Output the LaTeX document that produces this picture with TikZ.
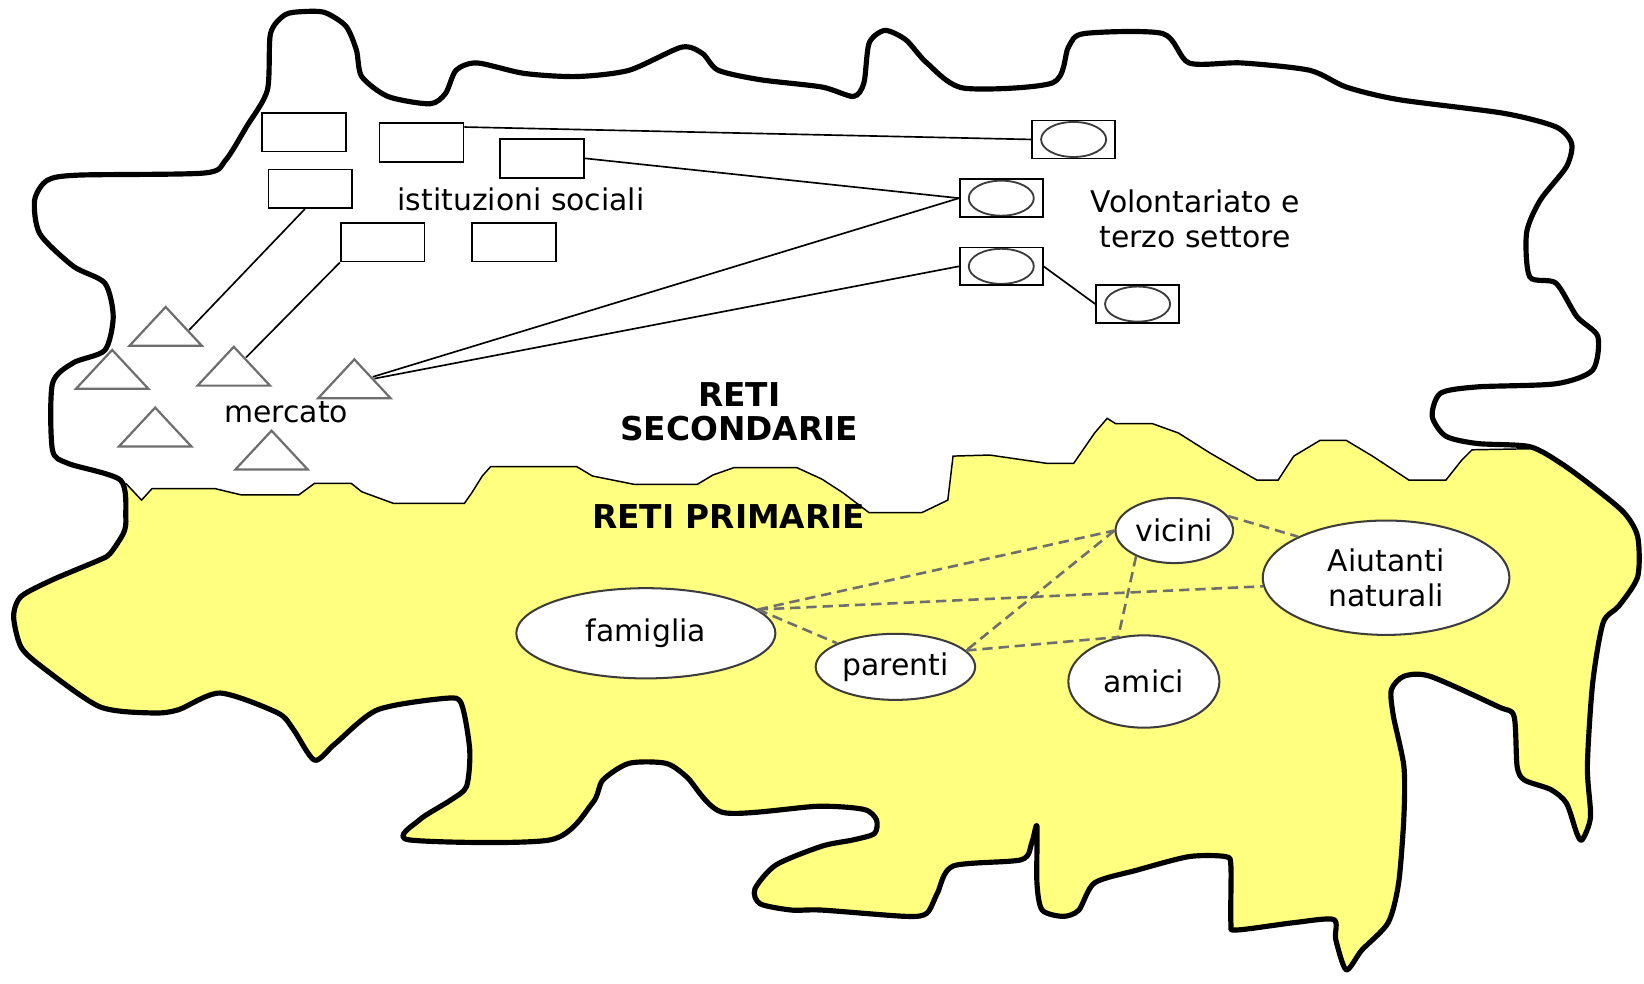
\documentclass[tikz,border=0pt]{standalone}
\usepackage{fontspec}
\setmainfont{DejaVu Sans}
\usetikzlibrary{shapes.geometric}
\definecolor{rgiallo}{HTML}{FFFF80}
\definecolor{rgrigio}{HTML}{6E6E6E}
\definecolor{rscuro}{HTML}{3C3C3C}
\tikzset{
  bordo/.style={line width=1.4pt,draw=black,line join=round},
  ist/.style={draw=black,line width=0.45pt,minimum width=0.8cm,minimum height=0.37cm,inner sep=0pt},
  vol/.style={draw=black,line width=0.45pt,minimum width=0.79cm,minimum height=0.36cm,inner sep=0pt,
    path picture={\draw[rscuro,line width=0.5pt] (path picture bounding box.center) ellipse (0.31cm and 0.167cm);}},
  mer/.style={isosceles triangle,isosceles triangle stretches,shape border rotate=90,draw=rgrigio,line width=0.6pt,
    minimum width=0.69cm,minimum height=0.37cm,inner sep=0pt,anchor=apex},
  prim/.style={ellipse,draw=rscuro,fill=white,line width=0.55pt,inner sep=0pt,align=center,font=\fontsize{8.1}{9.5}\selectfont},
  lbl/.style={font=\fontsize{8.1}{9.6}\selectfont,align=center,inner sep=0pt},
  tit/.style={font=\fontsize{8.9}{9.2}\bfseries\selectfont,align=center,inner sep=0pt},
  lnk/.style={line width=0.45pt,draw=black},
  rel/.style={dash pattern=on 2.8pt off 1.6pt,line width=0.7pt,draw=rgrigio},
}
\newcommand\contorno{plot[smooth cycle,tension=0.45] coordinates {
  (258,32) (272,14) (290,11) (310,12) (330,25) (340,48) (345,73) (370,92) (410,99) (425,89) (435,67)
  (455,60) (500,70) (550,73) (600,67) (650,45) (670,51) (685,67) (725,76) (784,83) (814,92) (824,79)
  (829,41) (844,29) (864,38) (884,60) (919,84) (1004,79) (1019,45) (1034,32) (1109,32) (1134,60)
  (1184,60) (1249,67) (1284,83) (1334,95) (1434,108) (1484,121) (1499,137) (1494,159) (1469,191)
  (1456,222) (1459,264) (1484,270) (1504,302) (1524,321) (1519,353) (1484,366) (1409,369) (1374,375)
  (1366,397) (1379,416) (1409,423) (1459,426) (1489,442) (1519,464) (1549,489) (1562,512) (1562,550)
  (1544,578) (1529,594) (1519,652) (1514,731) (1517,779) (1509,801) (1504,795) (1494,766) (1479,753)
  (1454,744) (1447,731) (1444,683) (1429,674) (1364,645) (1339,645) (1327,658) (1329,683) (1339,731)
  (1339,779) (1334,842) (1324,880) (1299,906) (1284,925) (1274,896) (1272,877) (1234,880) (1179,887)
  (1174,880) (1174,826) (1169,817) (1134,817) (1084,830) (1044,842) (1029,868) (1014,874) (994,868)
  (989,842) (989,788) (984,804) (974,820) (909,826) (894,852) (884,871) (864,874) (784,868) (755,868)
  (725,862) (720,848) (740,825) (784,807) (814,801) (834,795) (836,782) (824,772) (780,769) (690,775)
  (655,741) (635,728) (600,728) (575,744) (565,766) (525,801) (390,801) (400,782) (430,763) (445,750)
  (448,715) (440,671) (425,666) (360,677) (320,709) (300,725) (280,696) (265,680) (210,661) (170,677)
  (145,680) (95,674) (40,636) (20,617) (13,588) (20,569) (50,553) (95,534) (105,528) (118,508)
  (120,493) (115,458) (65,442) (50,429) (50,366) (70,346) (100,334) (108,302) (100,270) (70,254)
  (38,223) (33,191) (45,172) (75,167) (195,165) (215,153) (235,121) (255,86)}}
\newcommand\confine{(120,461) -- (135,477) -- (145,466) -- (205,466) -- (230,472) -- (285,472) -- (300,461)
  -- (335,461) -- (345,469) -- (375,480) -- (443,480) -- (450,470) -- (460,454) -- (468,445) -- (550,445)
  -- (565,454) -- (605,462) -- (665,462) -- (680,453) -- (700,446) -- (760,446) -- (784,457) -- (804,470)
  -- (829,489) -- (879,489) -- (904,477) -- (909,435) -- (944,434) -- (999,442) -- (1024,442) -- (1044,413)
  -- (1056,399) -- (1064,404) -- (1099,404) -- (1124,413) -- (1154,432) -- (1199,458) -- (1219,458)
  -- (1234,435) -- (1259,420) -- (1284,420) -- (1309,435) -- (1344,458) -- (1379,458) -- (1394,439)
  -- (1404,429) -- (1459,428)}
\begin{document}
\begin{tikzpicture}[x=0.01cm,y=-0.01cm]
  \useasboundingbox (0,0) rectangle (1568,938);
  % reti primarie
  \begin{scope}
    \clip (0,461) -- \confine -- (1568,428) -- (1568,938) -- (0,938) -- cycle;
    \fill[rgiallo] \contorno;
  \end{scope}
  \draw[line width=0.4pt] \confine;
  \draw[bordo] \contorno;
  % istituzioni sociali
  \foreach \n/\x/\y in {is1/290/126,is2/402/136,is3/517/151,is4/296/180,is5/365/231,is6/490/231}
    \node[ist] (\n) at (\x,\y) {};
  \node[lbl] (tis) at (497,190) {istituzioni sociali};
  % mercato
  \foreach \n/\x/\y in {me1/158/290,me2/107/331,me3/223/328,me4/338/340,me5/148/386,me6/259/408}
    \node[mer] (\n) at (\x,\y) {};
  \node[lbl] (tme) at (273,393) {mercato};
  % volontariato
  \foreach \n/\x/\y in {vo1/1024/133,vo2/955/189,vo3/955/254,vo4/1085/290}
    \node[vol] (\n) at (\x,\y) {};
  \node[lbl] (tvo) at (1140,209) {Volontariato e\\terzo settore};
  \draw[lnk] (is2.20) -- (vo1.west);
  \draw[lnk] (is3.east) -- (vo2.west);
  \draw[lnk] (vo2.west) -- (me4);
  \draw[lnk] (vo3.west) -- (me4);
  \draw[lnk] (vo3.east) -- (vo4.west);
  \draw[lnk] (is4.-105) -- (me1.east);
  \draw[lnk] (is5.south west) -- (me3);
  \node[tit] (tsec) at (705,393) {RETI\\SECONDARIE};
  \node[tit] (tpri) at (695,493) {RETI PRIMARIE};
  % nodi primari
  \node[prim,minimum width=2.47cm,minimum height=0.86cm] (fam) at (616,604) {famiglia};
  \node[prim,minimum width=1.12cm,minimum height=0.62cm] (vic) at (1120,506) {vicini};
  \node[prim,minimum width=2.35cm,minimum height=1.09cm] (aiu) at (1322,551) {Aiutanti\\naturali};
  \node[prim,minimum width=1.52cm,minimum height=0.63cm] (par) at (854,636) {parenti};
  \node[prim,minimum width=1.44cm,minimum height=0.88cm] (ami) at (1091,650) {amici};
  \draw[rel] (fam.12) -- (vic.west);
  \draw[rel] (fam.12) -- (aiu.184);
  \draw[rel] (fam.12) -- (par.158);
  \draw[rel] (vic.15) -- (aiu.155);
  \draw[rel] (vic.west) -- (par.13);
  \draw[rel] (vic.214) -- (ami.120);
  \draw[rel] (par.13) -- (ami.120);
\end{tikzpicture}
\end{document}
